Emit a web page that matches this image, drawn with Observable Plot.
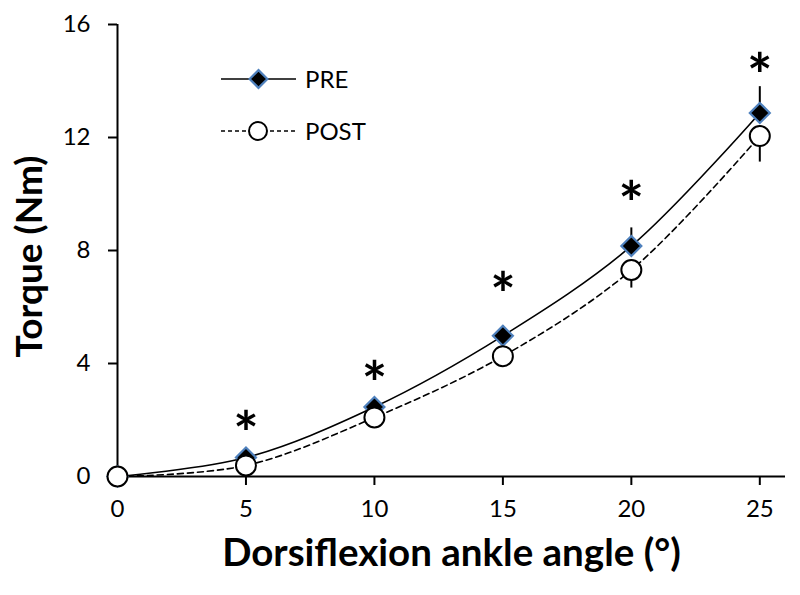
<!DOCTYPE html>
<html>
<head>
<meta charset="utf-8">
<script src="https://cdn.jsdelivr.net/npm/d3@7"></script>
<script src="https://cdn.jsdelivr.net/npm/@observablehq/plot@0.6"></script>
<style>
  html, body { margin: 0; padding: 0; background: #fff; }
  #wrap { position: relative; width: 800px; height: 595px; }
  #legend { position: absolute; left: 0; top: 0; }
</style>
</head>
<body>
<div id="wrap"></div>
<script>
// ---- data ----
const angles = [0, 5, 10, 15, 20, 25];
const preTorque = [0, 0.67, 2.46, 4.98, 8.16, 12.87];
const preSD = [0, 0.2, 0.25, 0.35, 0.64, 0.93];
const postTorque = [0, 0.39, 2.09, 4.26, 7.31, 12.05];
const postSD = [0, 0.15, 0.2, 0.35, 0.64, 0.92];
const sigAngles = [5, 10, 15, 20, 25];
const sigY = [1.98, 3.75, 6.9, 10.1, 14.65];
const xTicks = [0, 5, 10, 15, 20, 25];
const yTicks = [0, 4, 8, 12, 16];
const seriesNames = ["PRE", "POST"];
const xTitle = "Dorsiflexion ankle angle (°)";
const yTitle = "Torque (Nm)";

const pre = angles.map((a, i) => ({x: a, y: preTorque[i], sd: preSD[i]}));
const post = angles.map((a, i) => ({x: a, y: postTorque[i], sd: postSD[i]}));
const sig = sigAngles.map((a, i) => ({x: a, y: sigY[i]}));

const font = "Lato, 'Open Sans', sans-serif";
const tickFont = 24;

const chart = Plot.plot({
  width: 800,
  height: 595,
  marginLeft: 117,
  marginRight: 15,
  marginTop: 24,
  marginBottom: 119,
  style: {fontFamily: font, fontSize: tickFont + "px", color: "#000", background: "#fff"},
  x: {domain: [0, 26]},
  y: {domain: [0, 16]},
  marks: [
    Plot.lineY(pre, {x: "x", y: "y", curve: "catmull-rom", stroke: "#000", strokeWidth: 1.6}),
    Plot.lineY(post, {x: "x", y: "y", curve: "catmull-rom", stroke: "#000", strokeWidth: 1.6, strokeDasharray: "6,4"}),
    Plot.ruleX(pre, {x: "x", y1: "y", y2: d => d.y + d.sd, stroke: "#000", strokeWidth: 2}),
    Plot.ruleX(post, {x: "x", y1: "y", y2: d => d.y - d.sd, stroke: "#000", strokeWidth: 2}),
    Plot.ruleY([0], {stroke: "#000", strokeWidth: 2}),
    Plot.ruleX([0], {stroke: "#000", strokeWidth: 2}),
    Plot.axisX({ticks: xTicks, tickSize: 9, tickPadding: 14, fontSize: tickFont, strokeWidth: 2, label: null, tickFormat: d => String(d)}),
    Plot.axisY({ticks: yTicks, tickSize: 9, tickPadding: 18, fontSize: tickFont, strokeWidth: 2, label: null, tickFormat: d => String(d)}),
    Plot.dot(pre, {x: "x", y: "y", symbol: "diamond2", r: 9, fill: "#000", stroke: "#4f81bd", strokeWidth: 2.2}),
    Plot.dot(post, {x: "x", y: "y", symbol: "circle", r: 10, fill: "#fff", stroke: "#000", strokeWidth: 2}),
    Plot.text(sig, {x: "x", y: "y", text: () => "*", fontSize: 60, fontWeight: "bold", lineAnchor: "middle", dy: 15, fill: "#000"}),
    Plot.text([xTitle], {frameAnchor: "bottom", lineAnchor: "bottom", dy: 89, fontSize: 38.5, fontWeight: "bold", fill: "#000"}),
    Plot.text([yTitle], {frameAnchor: "left", textAnchor: "middle", lineAnchor: "bottom", rotate: -90, dx: -76, dy: 6, fontSize: 37, fontWeight: "bold", fill: "#000"})
  ]
});

// make sure axis tick labels use the intended size
d3.select(chart).selectAll('g[aria-label$="tick label"]')
  .attr("font-size", tickFont)
  .selectAll("text").attr("font-size", tickFont);

const wrap = document.getElementById("wrap");
wrap.appendChild(chart);

// ---- legend (overlay) ----
const leg = d3.select(wrap).append("svg")
  .attr("id", "legend").attr("width", 800).attr("height", 595)
  .style("pointer-events", "none");
const rows = [
  {name: seriesNames[0], y: 79, dash: null, sym: "diamond"},
  {name: seriesNames[1], y: 131, dash: "4,3", sym: "circle"}
];
rows.forEach(r => {
  const g = leg.append("g");
  g.append("line").attr("x1", 221).attr("x2", 296).attr("y1", r.y).attr("y2", r.y)
    .attr("stroke", "#000").attr("stroke-width", 1.6)
    .attr("stroke-dasharray", r.dash);
  if (r.sym === "diamond") {
    g.append("path").attr("transform", `translate(258.5,${r.y})`)
      .attr("d", d3.symbol(d3.symbolDiamond2, Math.PI * 8 * 8)())
      .attr("fill", "#000").attr("stroke", "#4f81bd").attr("stroke-width", 2.2);
  } else {
    g.append("circle").attr("cx", 258).attr("cy", r.y).attr("r", 9)
      .attr("fill", "#fff").attr("stroke", "#000").attr("stroke-width", 2);
  }
  g.append("text").attr("x", 305).attr("y", r.y).attr("dy", "0.36em")
    .attr("font-family", font).attr("font-size", 24).attr("fill", "#000")
    .text(r.name);
});
</script>
</body>
</html>
